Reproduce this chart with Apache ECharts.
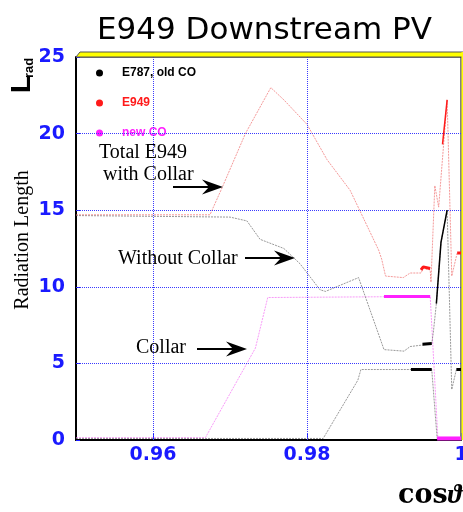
<!DOCTYPE html>
<html>
<head>
<meta charset="utf-8">
<script src="https://cdn.jsdelivr.net/npm/echarts@6/dist/echarts.min.js"></script>
<style>
  html, body { margin: 0; padding: 0; background: #fff; overflow: hidden; }
  #chart { width: 463px; height: 512px; }
</style>
</head>
<body>
<div id="chart"></div>
<script>
// Radiation length (in X0) of the downstream photon veto vs cos(theta)

// Tick positions on the cos(theta) axis
const xTickValues = [0.96, 0.98, 1];
// Reference grid levels
const xGridValues = [0.96, 0.98];
const yGridValues = [5, 10, 15, 20];

// E949 total, with the new collar
const e949Total = [
  [0.9500, 14.7], [0.9674, 14.7], [0.9690, 16.5], [0.9720, 20.0], [0.9753, 23.0],
  [0.9770, 22.2], [0.9800, 20.6], [0.9826, 18.3], [0.9856, 16.3], [0.9893, 12.4],
  [0.9897, 11.8], [0.9902, 10.7], [0.9925, 10.6], [0.9934, 10.9], [0.9948, 10.9],
  [0.9951, 11.2], [0.9960, 11.1], [0.9961, 10.3], [0.9966, 16.6], [0.9971, 15.2],
  [0.9982, 22.2], [0.9988, 10.7], [0.9995, 12.2], [1.0000, 12.2]
];

// E787 total (no collar)
const e787Total = [
  [0.9500, 14.65], [0.9700, 14.55], [0.9722, 14.3], [0.9739, 13.1], [0.9770, 12.5],
  [0.9791, 11.5], [0.9817, 9.8], [0.9824, 9.7], [0.9867, 10.6], [0.9900, 5.9],
  [0.9926, 5.8], [0.9934, 6.1], [0.9950, 6.2], [0.9962, 6.3], [0.9964, 7.0],
  [0.9968, 8.9], [0.9974, 12.9], [0.9982, 15.0], [0.9988, 3.3], [0.9994, 4.6],
  [1.0000, 4.6]
];

// E787 old collar
const oldCollar = [
  [0.9500, 0.1], [0.9821, 0.1], [0.9866, 3.9], [0.9870, 4.6], [0.9962, 4.6],
  [0.9969, 0.1], [1.0000, 0.1]
];

// New collar
const newCollar = [
  [0.9500, 0.15], [0.9668, 0.15], [0.9733, 6.0], [0.9749, 9.3], [0.9960, 9.37],
  [0.9970, 0.1], [1.0000, 0.1]
];

// Densely sampled stretches, drawn heavier
const e949Dense = [
  [[0.9948, 11.1], [0.9951, 11.3], [0.9960, 11.2]],
  [[0.9976, 19.3], [0.9982, 22.2]],
  [[0.9995, 12.2], [1.0000, 12.2]]
];
const e787Dense = [
  [[0.9950, 6.25], [0.9962, 6.3]],
  [[0.9935, 4.6], [0.9962, 4.6]],
  [[0.9968, 8.9], [0.9974, 12.9], [0.9982, 15.0]],
  [[0.9994, 4.6], [1.0000, 4.6]]
];
const newCollarDense = [
  [[0.9900, 9.37], [0.9960, 9.37]],
  [[0.9969, 0.1], [1.0000, 0.1]]
];

const NAME_E787 = 'E787, old CO';
const NAME_E949 = 'E949';
const NAME_NEW = 'new CO';

const BLUE = '#1a1aff';
const GRID_BLUE = '#3a3aff';

function line(name, data, color, width, z, dash) {
  return {
    type: 'line', name: name, data: data, showSymbol: false, z: z,
    silent: true, animation: false,
    lineStyle: { color: color, width: width, type: dash || 'solid' }
  };
}

// Dotted reference grid as mark lines on an empty carrier series
const gridSeries = {
  type: 'line', data: [], silent: true, z: 1,
  markLine: {
    silent: true, symbol: 'none', animation: false, precision: 4,
    label: { show: false },
    lineStyle: { color: GRID_BLUE, type: [1, 1], width: 1, opacity: 1 },
    emphasis: { disabled: true },
    data: xGridValues.map(v => ({ xAxis: v })).concat(yGridValues.map(v => ({ yAxis: v })))
  }
};

const series = [
  gridSeries,
  line(NAME_NEW, newCollar, 'rgba(245,120,245,0.75)', 1, 2, [2, 1]),
  line(NAME_E787, oldCollar, 'rgba(110,110,110,0.7)', 1, 3, [2, 1]),
  line(NAME_E787, e787Total, 'rgba(110,110,110,0.7)', 1, 3, [2, 1]),
  line(NAME_E949, e949Total, 'rgba(240,110,110,0.7)', 1, 4, [2, 1])
];
newCollarDense.forEach((seg, i) => series.push(line(NAME_NEW, seg, '#ff20ff', i === 1 ? 4 : 3, 5)));
e787Dense.forEach((seg, i) => series.push(line(NAME_E787, seg, '#000', i === 2 ? 1.5 : 3, 6)));
e949Dense.forEach((seg, i) => series.push(line(NAME_E949, seg, '#ff1a1a', i === 1 ? 1.5 : 3, 7)));

// Annotation arrow: shaft plus a slender head with a notched back
function arrow(x0, x1, y) {
  return [
    { type: 'line', shape: { x1: x0, y1: y, x2: x1 - 12, y2: y },
      style: { stroke: '#000', lineWidth: 2 }, z: 20 },
    { type: 'polygon',
      shape: { points: [[x1, y], [x1 - 21, y - 7.5], [x1 - 14, y], [x1 - 21, y + 7.5]] },
      style: { fill: '#000' }, z: 20 }
  ];
}

function note(text, x, y) {
  return { type: 'text', x: x, y: y, z: 20,
    style: { text: text, fill: '#000', font: '20px "Liberation Serif"',
      align: 'left', verticalAlign: 'middle' } };
}

const graphic = [
  // 3D frame edges
  { type: 'polygon', shape: { points: [[76, 57], [80, 52], [464, 52], [464, 57]] },
    style: { fill: '#ffff00', stroke: '#555', lineWidth: 1 }, z: 10 },
  { type: 'rect', shape: { x: 461.5, y: 52, width: 3, height: 388 },
    style: { fill: '#ffff00' }, z: 10 },
  // axis names
  { type: 'text', x: 22, y: 93, rotation: Math.PI / 2, z: 20,
    style: { text: 'L', fill: '#000', font: 'bold 28px "Liberation Sans"',
      align: 'left', verticalAlign: 'middle' } },
  { type: 'text', x: 29, y: 78, rotation: Math.PI / 2, z: 20,
    style: { text: 'rad', fill: '#000', font: 'bold 13px "Liberation Sans"',
      align: 'left', verticalAlign: 'middle' } },
  { type: 'text', x: 23, y: 240, rotation: Math.PI / 2, z: 20,
    style: { text: 'Radiation Length', fill: '#000', font: '20px "Liberation Serif"',
      align: 'center', verticalAlign: 'middle' } },
  { type: 'text', x: 462, y: 496, z: 20,
    style: { text: '{c|cos}{t|ϑ}', fill: '#000', align: 'right', verticalAlign: 'middle',
      rich: {
        c: { font: 'bold 27px "DejaVu Serif"' },
        t: { font: 'bold italic 27px "Liberation Serif"' }
      } } },
  // curve annotations
  note('Total E949', 99, 153),
  note('with Collar', 103, 175),
  note('Without Collar', 118, 259),
  note('Collar', 136, 348)
].concat(arrow(173, 223, 187), arrow(245, 295, 258), arrow(197, 247, 349));

const option = {
  animation: false,
  backgroundColor: '#fff',
  title: {
    text: 'E949 Downstream PV', left: 97, top: 15, padding: 0,
    textStyle: { fontFamily: 'DejaVu Sans', fontSize: 31, fontWeight: 'normal', color: '#000' }
  },
  grid: {
    left: 76, right: 2, top: 57, bottom: 72,
    outerBoundsMode: 'none',
    show: true, borderColor: '#000', borderWidth: 1, backgroundColor: '#fff'
  },
  legend: {
    left: 91, top: 62, orient: 'vertical', itemWidth: 7, itemHeight: 7, itemGap: 18,
    icon: 'circle', selectedMode: false,
    data: [
      { name: NAME_E787, itemStyle: { color: '#000' }, textStyle: { color: '#000' } },
      { name: NAME_E949, itemStyle: { color: '#ff1a1a' }, textStyle: { color: '#ff1a1a' } },
      { name: NAME_NEW, itemStyle: { color: '#ff20ff' }, textStyle: { color: '#ff20ff' } }
    ],
    formatter: n => '{t|' + n + '}',
    textStyle: {
      fontFamily: 'Liberation Sans', fontWeight: 'bold', fontSize: 12,
      rich: { t: { padding: [0, 0, 0, 14], fontFamily: 'Liberation Sans', fontWeight: 'bold', fontSize: 12 } }
    }
  },
  xAxis: {
    type: 'value', min: 0.95, max: 1,
    axisLine: { show: true, onZero: false, lineStyle: { color: '#000', width: 2 } },
    axisTick: { show: true, inside: true, length: 7, customValues: xTickValues,
      lineStyle: { color: BLUE, width: 1 } },
    axisLabel: { customValues: xTickValues, color: BLUE, fontFamily: 'DejaVu Sans',
      fontWeight: 'bold', fontSize: 19, margin: 6,
      formatter: v => String(Number(v.toFixed(2))) },
    splitLine: { show: false }
  },
  yAxis: {
    type: 'value', min: 0, max: 25, interval: 5,
    axisLine: { show: true, lineStyle: { color: '#000', width: 2 } },
    axisTick: { show: true, inside: true, length: 4, lineStyle: { color: BLUE, width: 1 } },
    axisLabel: { color: BLUE, fontFamily: 'DejaVu Sans', fontWeight: 'bold', fontSize: 19, margin: 11 },
    splitLine: { show: false }
  },
  graphic: graphic,
  series: series
};

const chart = echarts.init(document.getElementById('chart'), null, { renderer: 'canvas' });
chart.setOption(option);
</script>
</body>
</html>
